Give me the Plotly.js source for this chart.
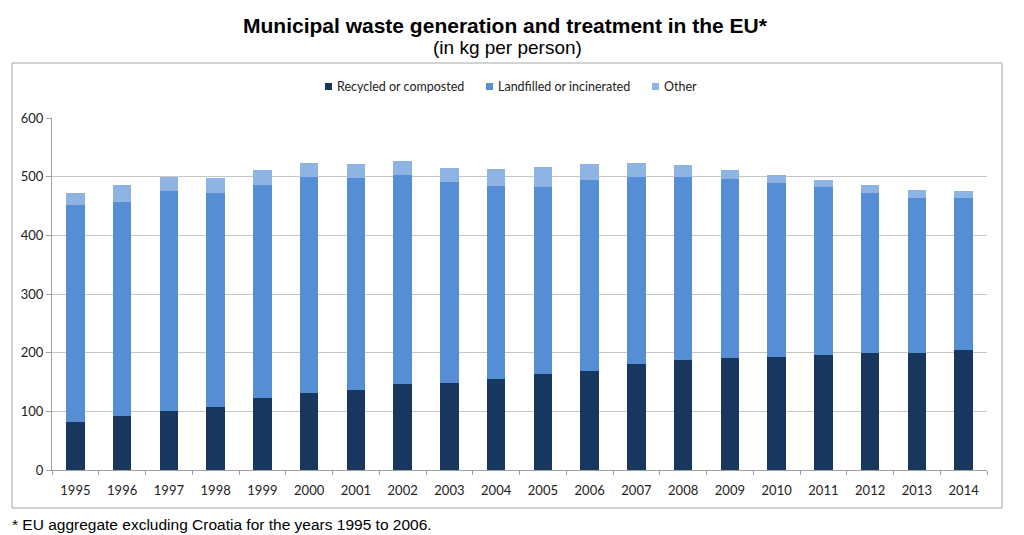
<!DOCTYPE html>
<html>
<head>
<meta charset="utf-8">
<script src="https://cdn.plot.ly/plotly-3.0.1.min.js"></script>
<style>html,body{margin:0;padding:0;background:#fff;}#chart{width:1024px;height:535px;}</style>
</head>
<body>
<div id="chart"></div>
<script>
const years = ['1995','1996','1997','1998','1999','2000','2001','2002','2003','2004','2005','2006','2007','2008','2009','2010','2011','2012','2013','2014'];
const recycled = [81, 92, 101, 108, 122, 132, 137, 147, 149, 155, 163, 169, 181, 188, 191, 192, 196, 200, 200, 205];
const landfilled = [370, 364, 374, 364, 364, 368, 360, 355, 342, 329, 319, 326, 319, 312, 305, 298, 287, 272, 264, 259];
const other = [22, 30, 25, 25, 25, 23, 24, 25, 24, 29, 34, 27, 23, 20, 15, 13, 12, 13, 13, 11];
const seriesNames = ['Recycled or composted', 'Landfilled or incinerated', 'Other'];
const yTicks = [0, 100, 200, 300, 400, 500, 600];

const tickFont = {family: 'Lato, "Open Sans", sans-serif', size: 13, color: '#222'};
const colors = ['#17375e', '#558ed5', '#8eb4e3'];
const data = [recycled, landfilled, other].map((vals, i) => ({
  type: 'bar', x: years, y: vals, name: seriesNames[i],
  marker: {color: colors[i]}, hoverinfo: 'x+y+name', showlegend: false
}));

const L = 52, R = 987, T = 118, B = 470;
const pw = R - L, ph = B - T;
const px = v => (v - L) / pw;
const py = v => (B - v) / ph;

// custom legend (small square swatches as in the reference)
const legendX = [325, 486, 652];
const legendY = 86.5;
const legendShapes = seriesNames.map((n, i) => ({
  type: 'rect', xref: 'paper', yref: 'paper',
  x0: px(legendX[i]), x1: px(legendX[i] + 7), y0: py(legendY + 3.5), y1: py(legendY - 3.5),
  line: {width: 0}, fillcolor: colors[i]
}));
const legendAnn = seriesNames.map((n, i) => ({
  text: n, xref: 'paper', yref: 'paper', x: px(legendX[i] + 10), y: py(legendY),
  xanchor: 'left', yanchor: 'middle', showarrow: false,
  font: {family: 'Lato, "Open Sans", sans-serif', size: 12.5, color: '#222'}
}));

const layout = {
  width: 1024, height: 535,
  margin: {l: L, r: 1024 - R, t: T, b: 535 - B, pad: 0},
  paper_bgcolor: '#fff', plot_bgcolor: '#fff',
  barmode: 'stack', bargap: 0.6,
  showlegend: false,
  xaxis: {type: 'category', showline: true, linecolor: '#a0a0a0', linewidth: 1,
          ticks: 'outside', tickson: 'boundaries', ticklen: 4, tickcolor: '#a0a0a0',
          ticklabelstandoff: 8,
          tickfont: tickFont, showgrid: false, fixedrange: true},
  yaxis: {range: [0, 600], tickvals: yTicks, ticktext: yTicks.map(String),
          showline: true, linecolor: '#a0a0a0', linewidth: 1,
          ticks: 'outside', ticklen: 5, tickcolor: '#a0a0a0',
          showgrid: true, gridcolor: '#c6c6c6', gridwidth: 1,
          zeroline: false, tickfont: tickFont, fixedrange: true},
  shapes: [{type: 'rect', xref: 'paper', yref: 'paper',
            x0: px(12), x1: px(1002), y0: py(508), y1: py(63),
            line: {color: '#a6a6a6', width: 1}, fillcolor: 'rgba(0,0,0,0)', layer: 'below'}]
            .concat(legendShapes),
  annotations: [
    {text: '<b>Municipal waste generation and treatment in the EU*</b>', xref: 'paper', yref: 'paper',
     x: px(505), y: py(25), xanchor: 'center', yanchor: 'middle', showarrow: false,
     font: {family: '"Liberation Sans", Arial, sans-serif', size: 21, color: '#000'}},
    {text: '(in kg per person)', xref: 'paper', yref: 'paper',
     x: px(507), y: py(47), xanchor: 'center', yanchor: 'middle', showarrow: false,
     font: {family: '"Liberation Sans", Arial, sans-serif', size: 19, color: '#000'}},
    {text: '* EU aggregate excluding Croatia for the years 1995 to 2006.', xref: 'paper', yref: 'paper',
     x: px(10), y: py(524), xanchor: 'left', yanchor: 'middle', showarrow: false,
     font: {family: '"Liberation Sans", Arial, sans-serif', size: 15.5, color: '#000'}}
  ].concat(legendAnn)
};

Plotly.newPlot('chart', data, layout, {displayModeBar: false, staticPlot: true});
</script>
</body>
</html>
